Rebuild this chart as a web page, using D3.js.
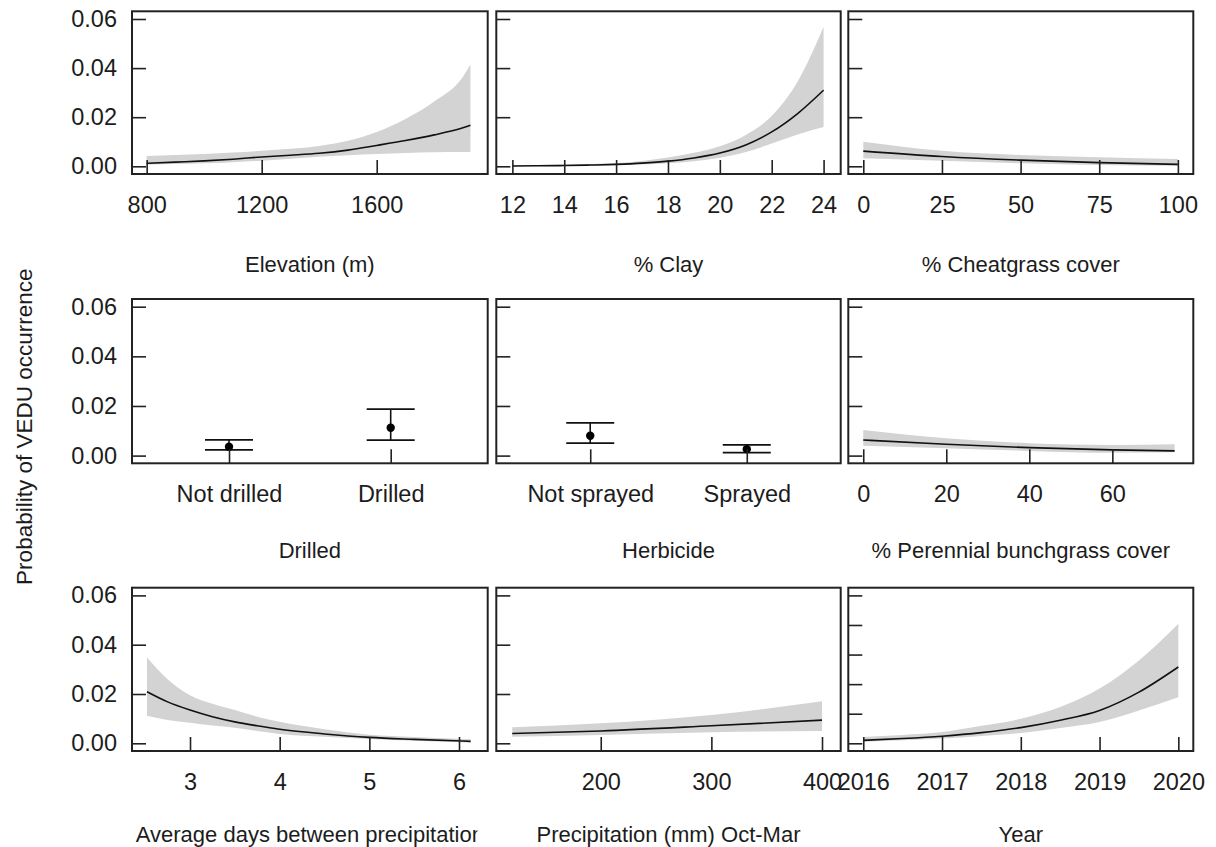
<!DOCTYPE html>
<html><head><meta charset="utf-8">
<script src="https://cdn.jsdelivr.net/npm/d3@7"></script>
<style>
html,body{margin:0;padding:0;background:#fff;}
svg{display:block;font-family:"Liberation Sans",Arial,sans-serif;}
</style></head>
<body><svg id="chart" width="1216" height="847"></svg>
<script>
// ---------- DATA ----------
const yTicksStd = [0, 0.02, 0.04, 0.06];
const yTicksYear = [0, 0.01, 0.02, 0.03, 0.04, 0.05];

const elevX   = [800, 900, 1000, 1100, 1200, 1300, 1400, 1500, 1600, 1700, 1800, 1900, 1926];
const elevFit = [0.0012, 0.0017, 0.0022, 0.0029, 0.0038, 0.0045, 0.0053, 0.0066, 0.0085, 0.0105, 0.0128, 0.0157, 0.0167];
const elevLo  = [0.0006, 0.0009, 0.0012, 0.0017, 0.0023, 0.0031, 0.0039, 0.0045, 0.0050, 0.0054, 0.0057, 0.0058, 0.0058];
const elevHi  = [0.0042, 0.0046, 0.0050, 0.0056, 0.0063, 0.0071, 0.0083, 0.0104, 0.0140, 0.0193, 0.0264, 0.0365, 0.0415];
const elevTicks = [800, 1200, 1600];

const clayX   = [12, 13, 14, 15, 16, 17, 18, 19, 20, 21, 22, 23, 24];
const clayFit = [0.0001, 0.0002, 0.0003, 0.0005, 0.0008, 0.0013, 0.0021, 0.0034, 0.0054, 0.0087, 0.0140, 0.0215, 0.0310];
const clayLo  = [0.00003, 0.0001, 0.0001, 0.0002, 0.0004, 0.0007, 0.0012, 0.0021, 0.0035, 0.0058, 0.0093, 0.0130, 0.0160];
const clayHi  = [0.0004, 0.0005, 0.0007, 0.0009, 0.0013, 0.0022, 0.0036, 0.0055, 0.0082, 0.0128, 0.0205, 0.0345, 0.0568];
const clayTicks = [12, 14, 16, 18, 20, 22, 24];

const cheatX   = [0, 25, 50, 75, 100];
const cheatFit = [0.0062, 0.0040, 0.0025, 0.0015, 0.0008];
const cheatLo  = [0.0033, 0.0023, 0.0012, 0.0005, 0.0002];
const cheatHi  = [0.0100, 0.0063, 0.0046, 0.0037, 0.0030];
const cheatTicks = [0, 25, 50, 75, 100];

const drillCats = ["Not drilled", "Drilled"];
const drillFit  = [0.0036, 0.0112];
const drillLo   = [0.0023, 0.0062];
const drillHi   = [0.0063, 0.0187];

const herbCats = ["Not sprayed", "Sprayed"];
const herbFit  = [0.0080, 0.0026];
const herbLo   = [0.0050, 0.0012];
const herbHi   = [0.0132, 0.0043];

const bunchX   = [0, 20, 40, 60, 75];
const bunchFit = [0.0063, 0.0046, 0.0032, 0.0023, 0.0019];
const bunchLo  = [0.0040, 0.0030, 0.0019, 0.0011, 0.0013];
const bunchHi  = [0.0103, 0.0070, 0.0050, 0.0043, 0.0046];
const bunchTicks = [0, 20, 40, 60];

const daysX   = [2.52, 2.75, 3, 3.25, 3.5, 3.75, 4, 4.5, 5, 5.5, 6.13];
const daysFit = [0.0209, 0.0168, 0.0135, 0.0108, 0.0087, 0.0071, 0.0057, 0.0038, 0.0024, 0.0016, 0.0008];
const daysLo  = [0.0112, 0.0095, 0.0083, 0.0072, 0.0063, 0.0050, 0.0038, 0.0027, 0.0017, 0.0010, 0.0003];
const daysHi  = [0.0348, 0.0260, 0.0195, 0.0160, 0.0135, 0.0108, 0.0087, 0.0057, 0.0035, 0.0026, 0.0016];
const daysTicks = [3, 4, 5, 6];

const precipX   = [120, 200, 300, 400];
const precipFit = [0.0040, 0.0050, 0.0071, 0.0094];
const precipLo  = [0.0027, 0.0034, 0.0045, 0.0050];
const precipHi  = [0.0065, 0.0081, 0.0115, 0.0171];
const precipTicks = [200, 300, 400];

const yearX   = [2016, 2016.5, 2017, 2017.5, 2018, 2018.5, 2019, 2019.5, 2020];
const yearFit = [0.0010, 0.0016, 0.0024, 0.0036, 0.0053, 0.0078, 0.0111, 0.0173, 0.0258];
const yearLo  = [0.0005, 0.0010, 0.0016, 0.0025, 0.0035, 0.0052, 0.0072, 0.0111, 0.0156];
const yearHi  = [0.0021, 0.0028, 0.0038, 0.0059, 0.0083, 0.0123, 0.0185, 0.0280, 0.0404];
const yearTicks = [2016, 2017, 2018, 2019, 2020];

const yTitle = "Probability of VEDU occurrence";

// ---------- LAYOUT ----------
const colL = [132, 496.3, 848.3], colR = [487.7, 840.7, 1193.3];
const rowT = [11.3, 299, 587.7], rowB = [174, 463.3, 751];
const titleBase = [271.7, 558.3, 841.5];
const inkC = "#1c1c1c";

const panels = [
  {r:0,c:0,type:"curve",x:elevX,fit:elevFit,lo:elevLo,hi:elevHi,dom:[749,1986],ticks:elevTicks,title:"Elevation (m)"},
  {r:0,c:1,type:"curve",x:clayX,fit:clayFit,lo:clayLo,hi:clayHi,dom:[11.38,24.66],ticks:clayTicks,title:"% Clay"},
  {r:0,c:2,type:"curve",x:cheatX,fit:cheatFit,lo:cheatLo,hi:cheatHi,dom:[-4.77,104.9],ticks:cheatTicks,title:"% Cheatgrass cover"},
  {r:1,c:0,type:"cat",cats:drillCats,fit:drillFit,lo:drillLo,hi:drillHi,title:"Drilled"},
  {r:1,c:1,type:"cat",cats:herbCats,fit:herbFit,lo:herbLo,hi:herbHi,title:"Herbicide"},
  {r:1,c:2,type:"curve",x:bunchX,fit:bunchFit,lo:bunchLo,hi:bunchHi,dom:[-3.6,79.5],ticks:bunchTicks,title:"% Perennial bunchgrass cover"},
  {r:2,c:0,type:"curve",x:daysX,fit:daysFit,lo:daysLo,hi:daysHi,dom:[2.353,6.32],ticks:daysTicks,title:"Average days between precipitation",clip:true},
  {r:2,c:1,type:"curve",x:precipX,fit:precipFit,lo:precipLo,hi:precipHi,dom:[105.6,416.9],ticks:precipTicks,title:"Precipitation (mm) Oct-Mar"},
  {r:2,c:2,type:"curve",x:yearX,fit:yearFit,lo:yearLo,hi:yearHi,dom:[2015.81,2020.19],ticks:yearTicks,title:"Year",yTicks:yTicksYear,ymax:0.05}
];

const svg = d3.select("#chart");
svg.append("defs").append("clipPath").attr("id","clipc0")
  .append("rect").attr("x",0).attr("y",0).attr("width",477.5).attr("height",847);

panels.forEach(p => {
  const L = colL[p.c], R = colR[p.c], T = rowT[p.r], B = rowB[p.r];
  const ymax = p.ymax || 0.06;
  const y = d3.scaleLinear().domain([0, ymax]).range([B - 7.7, T + 7.7]);
  let x;
  if (p.type === "cat") {
    x = d3.scaleLinear().domain([0.4, 2.6]).range([L, R]);
  } else {
    x = d3.scaleLinear().domain(p.dom).range([L, R]);
  }
  const g = svg.append("g");

  if (p.type === "curve") {
    const pts = p.x.map((v,i)=>({x:v,f:p.fit[i],lo:p.lo[i],hi:p.hi[i]}));
    g.append("path").datum(pts)
      .attr("fill","#d3d3d3")
      .attr("d", d3.area().x(d=>x(d.x)).y0(d=>y(d.lo)).y1(d=>y(d.hi)).curve(d3.curveMonotoneX));
    g.append("path").datum(pts)
      .attr("fill","none").attr("stroke","#111").attr("stroke-width",1.6)
      .attr("d", d3.line().x(d=>x(d.x)).y(d=>y(d.f)).curve(d3.curveMonotoneX));
  } else {
    p.cats.forEach((c,i)=>{
      const cx = x(i+1);
      g.append("line").attr("x1",cx).attr("x2",cx).attr("y1",y(p.lo[i])).attr("y2",y(p.hi[i]))
        .attr("stroke","#111").attr("stroke-width",1.6);
      [p.lo[i], p.hi[i]].forEach(v=>{
        g.append("line").attr("x1",cx-24).attr("x2",cx+24).attr("y1",y(v)).attr("y2",y(v))
          .attr("stroke","#111").attr("stroke-width",1.8);
      });
      g.append("circle").attr("cx",cx).attr("cy",y(p.fit[i])).attr("r",4.2).attr("fill","#000");
    });
  }

  // y axis
  const yt = p.yTicks || yTicksStd;
  const ya = g.append("g").attr("transform",`translate(${L},0)`)
    .call(d3.axisLeft(y).tickValues(yt).tickSize(-14).tickPadding(15)
      .tickFormat(p.c === 0 ? d3.format(".2f") : ""));
  ya.select(".domain").remove();
  ya.selectAll(".tick line").attr("stroke","#222").attr("stroke-width",1.6);
  ya.selectAll(".tick text").attr("font-size","23.5px").attr("fill",inkC).attr("font-family","Liberation Sans, Arial, sans-serif");

  // x axis
  let xa;
  if (p.type === "cat") {
    xa = d3.axisBottom(x).tickValues([1,2]).tickFormat(d=>p.cats[d-1]);
  } else {
    xa = d3.axisBottom(x).tickValues(p.ticks).tickFormat(d3.format("d"));
  }
  const xg = g.append("g").attr("transform",`translate(0,${B})`)
    .call(xa.tickSize(-14).tickPadding(22));
  xg.select(".domain").remove();
  xg.selectAll(".tick line").attr("stroke","#222").attr("stroke-width",1.6);
  xg.selectAll(".tick text").attr("font-size","23.5px").attr("fill",inkC).attr("font-family","Liberation Sans, Arial, sans-serif");

  // box
  g.append("rect").attr("x",L).attr("y",T).attr("width",R-L).attr("height",B-T)
    .attr("fill","none").attr("stroke","#222").attr("stroke-width",2);

  // title
  const t = svg.append("text").attr("x",(L+R)/2).attr("y",titleBase[p.r])
    .attr("text-anchor","middle").attr("font-size","22px").attr("fill",inkC).text(p.title);
  if (p.clip) t.attr("clip-path","url(#clipc0)");
});

svg.append("text").attr("transform","translate(31.5,426.7) rotate(-90)")
  .attr("text-anchor","middle").attr("font-size","22.5px").attr("fill",inkC).text(yTitle);
</script>
</body></html>
